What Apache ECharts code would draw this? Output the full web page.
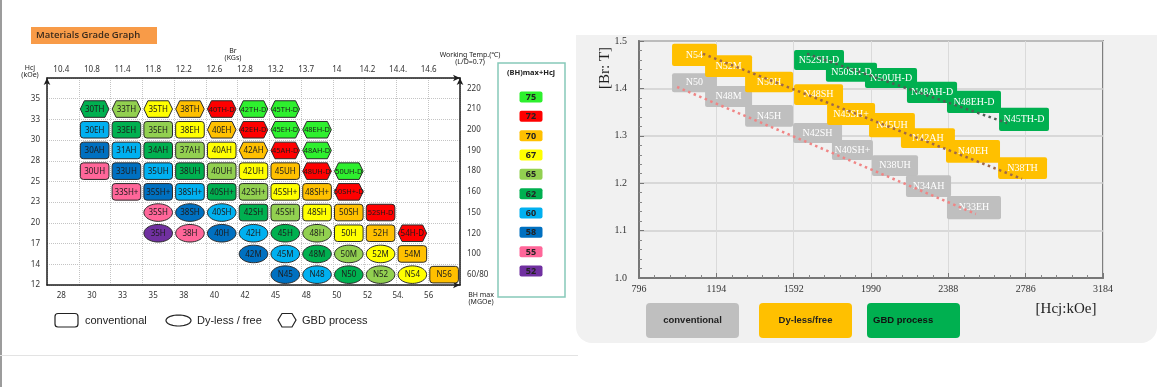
<!DOCTYPE html>
<html><head><meta charset="utf-8">
<script src="https://cdn.jsdelivr.net/npm/echarts@6.0.0/dist/echarts.min.js"></script>
<style>
html,body{margin:0;padding:0;background:#fff;}
#wrap{position:relative;width:1168px;height:387px;overflow:hidden;}
#c{position:absolute;left:0;top:0;width:1168px;height:387px;}
.bg1{position:absolute;left:0;top:0;width:2px;height:387px;background:#9c9c9c;}
.bg2{position:absolute;left:0;top:355px;width:578px;height:1px;background:#e3e3e3;}
.bg3{position:absolute;left:576px;top:35px;width:581px;height:308px;background:#f1f1f1;border-radius:0 0 16px 16px;}
</style>
</head><body><div id="wrap"><div class="bg1"></div><div class="bg2"></div><div class="bg3"></div><div id="c"></div></div>
<script>
// ---------- Left chart data ----------
const bhMaxLabels = ['28','30','33','35','38','40','42','45','48','50','52','54.','56'];
const brLabels = ['10.4','10.8','11.4','11.8','12.2','12.6','12.8','13.2','13.7','14','14.2','14.4.','14.6'];
const hcjLabels = ['12','14','17','20','23','25','28','30','33','35'];
const tempLabels = ['60/80','100','120','150','160','180','190','200','210','220'];
const scoreValues = [75,72,70,67,65,62,60,58,55,52];
const scoreColors = ['#2ef02e','#ff0000','#ffc000','#ffff00','#92d050','#00b050','#00b0f0','#0070c0','#ff6699','#7030a0'];

// rows: 0=N, 1=M, 2=H, 3=SH, 4=SH+, 5=UH, 6=AH, 7=EH, 8=TH ; shapes: r=conventional, e=Dy-less/free, h=GBD
const gradeNames = [
 '30TH','33TH','35TH','38TH','40TH-D','42TH-D','45TH-D',
 '30EH','33EH','35EH','38EH','40EH','42EH-D','45EH-D','48EH-D',
 '30AH','31AH','34AH','37AH','40AH','42AH','45AH-D','48AH-D',
 '30UH','33UH','35UH','38UH','40UH','42UH','45UH','48UH-D','50UH-D',
 '33SH+','35SH+','38SH+','40SH+','42SH+','45SH+','48SH+','50SH+-D',
 '35SH','38SH','40SH','42SH','45SH','48SH','50SH','52SH-D',
 '35H','38H','40H','42H','45H','48H','50H','52H','54H-D',
 '42M','45M','48M','50M','52M','54M',
 'N45','N48','N50','N52','N54','N56'];
const gradeCols = [
 1,2,3,4,5,6,7,
 1,2,3,4,5,6,7,8,
 1,2,3,4,5,6,7,8,
 1,2,3,4,5,6,7,8,9,
 2,3,4,5,6,7,8,9,
 3,4,5,6,7,8,9,10,
 3,4,5,6,7,8,9,10,11,
 6,7,8,9,10,11,
 7,8,9,10,11,12];
const gradeRows = [
 8,8,8,8,8,8,8,
 7,7,7,7,7,7,7,7,
 6,6,6,6,6,6,6,6,
 5,5,5,5,5,5,5,5,5,
 4,4,4,4,4,4,4,4,
 3,3,3,3,3,3,3,3,
 2,2,2,2,2,2,2,2,2,
 1,1,1,1,1,1,
 0,0,0,0,0,0];
const gradeScores = [
 62,65,67,70,72,75,75,
 60,62,65,67,70,72,75,75,
 58,60,62,65,67,70,72,75,
 55,58,60,62,65,67,70,72,75,
 55,58,60,62,65,67,70,72,
 55,58,60,62,65,67,70,72,
 52,55,58,60,62,65,67,70,72,
 58,60,62,65,67,70,
 58,60,62,65,67,70];
const gradeShapes = [
 'h','h','h','h','h','h','h',
 'r','r','r','r','h','h','h','h',
 'r','r','r','r','r','h','h','h',
 'r','r','r','r','r','r','r','h','h',
 'r','r','r','r','r','r','r','h',
 'e','e','e','r','r','r','r','r',
 'e','e','e','e','e','e','r','r','h',
 'e','e','e','e','e','r',
 'e','e','e','e','e','r'];

// ---------- Right chart data ----------
const hcjTicksMin = 796, hcjTicksMax = 3184, hcjStep = 398;
const groupNames = ['conventional','Dy-less/free','GBD process'];
const groupColors = ['#bfbfbf','#ffc000','#00b050'];
const blockNames = ['N50','N48M','N45H','N42SH','N40SH+','N38UH','N34AH','N33EH',
 'N54','N52M','N50H','N48SH','N45SH+','N45UH','N42AH','N40EH','N38TH',
 'N52SH-D','N50SH-D','N50UH-D','N48AH-D','N48EH-D','N45TH-D'];
const blockGroup = [0,0,0,0,0,0,0,0, 1,1,1,1,1,1,1,1,1, 2,2,2,2,2,2];
const blockHcjMin = [966,1136,1342,1589,1789,1995,2170,2381, 966,1136,1342,1594,1764,1980,2144,2376,2644, 1594,1758,1959,2175,2381,2649];
const blockHcjMax = [1197,1378,1589,1841,2000,2232,2402,2659, 1197,1378,1589,1846,2011,2216,2422,2654,2896, 1851,2021,2227,2433,2659,2906];
const blockBrMin = [1.392,1.361,1.319,1.285,1.249,1.215,1.171,1.124, 1.447,1.424,1.392,1.365,1.323,1.297,1.274,1.243,1.209, 1.439,1.414,1.401,1.369,1.348,1.310];
const blockBrMax = [1.432,1.405,1.365,1.327,1.291,1.259,1.217,1.173, 1.494,1.470,1.435,1.409,1.369,1.348,1.316,1.291,1.255, 1.481,1.454,1.443,1.414,1.395,1.359];
const trendColors = ['#f08585','#a06848','#4f5f55'];
const trendHcj = [[992,2530],[1125,2767],[1661,2690]];
const trendBr = [[1.403,1.135],[1.473,1.209],[1.473,1.327]];

// ---------- helpers ----------
function ellipsePts(cx, cy, rx, ry, n){
  const p = [];
  for (let k=0;k<n;k++){ const a = k/n*Math.PI*2; p.push([cx+rx*Math.cos(a), cy+ry*Math.sin(a)]); }
  return p;
}
function T(x, y, text, font, extra){
  return Object.assign({type:'text', x:x, y:y, z:100, style:{text:text, font:font, fill:'#222',
    align:'center', verticalAlign:'middle', textAlign:'center', textVerticalAlign:'middle'}}, extra||{});
}
const shapeCode = {r:0, e:1, h:2};

function renderCell(params, api){
  const i = params.dataIndex;
  const c = api.coord([api.value(0), api.value(1) + 0.5]);
  const band = api.size([1, 1]);
  const w = band[0]*0.9, h = band[1]*0.8;
  const color = scoreColors[scoreValues.indexOf(api.value(2))];
  const shp = api.value(3);
  const x0 = c[0]-w/2, y0 = c[1]-h/2;
  const style = {fill: color, stroke:'#2a2a2a', lineWidth:1};
  let el;
  if (shp === 0) el = {type:'rect', shape:{x:x0, y:y0, width:w, height:h, r:3}, style:style};
  else if (shp === 1) el = {type:'polygon', shape:{points: ellipsePts(c[0], c[1], w/2, h/2+0.5, 40)}, style:style};
  else { const k = 4; el = {type:'polygon', shape:{points:[[x0,c[1]],[x0+k,y0],[x0+w-k,y0],[x0+w,c[1]],[x0+w-k,y0+h],[x0+k,y0+h]]}, style:style}; }
  const name = gradeNames[i];
  const fs = name.length >= 6 ? '7.4px' : '8px';
  return {type:'group', children:[el, {type:'text', style:{text: name, x:c[0], y:c[1]+0.5,
    align:'center', verticalAlign:'middle', textAlign:'center', textVerticalAlign:'middle', fill:'#1c1c1c', font:fs + ' "Noto Sans"'}}]};
}
function renderBlock(params, api){
  const p0 = api.coord([api.value(0), api.value(3)]);
  const p1 = api.coord([api.value(1), api.value(2)]);
  return {type:'rect', shape:{x:p0[0], y:p0[1], width:p1[0]-p0[0], height:p1[1]-p0[1], r:2},
    style:{fill: groupColors[api.value(4)]}};
}
function renderBlockLabel(params, api){
  const p0 = api.coord([api.value(0), api.value(3)]);
  const p1 = api.coord([api.value(1), api.value(2)]);
  return {type:'text', style:{text: blockNames[params.dataIndex], x:(p0[0]+p1[0])/2, y:(p0[1]+p1[1])/2,
    align:'center', verticalAlign:'middle', textAlign:'center', textVerticalAlign:'middle', fill:'#ffffff', font:'10px "Liberation Serif"'}};
}

const cellData = gradeNames.map((n,i)=>({name:n, value:[gradeCols[i], gradeRows[i], gradeScores[i], shapeCode[gradeShapes[i]]]}));
const blockData = blockNames.map((n,i)=>({name:n, value:[blockHcjMin[i], blockHcjMax[i], blockBrMin[i], blockBrMax[i], blockGroup[i]]}));

// ---------- graphics (titles, legends) ----------
const graphics = [];
graphics.push({type:'rect', z:100, shape:{x:31, y:27, width:126, height:17}, style:{fill:'#f89b48'}});
graphics.push({type:'text', z:100, x:36, y:35.5, style:{text:'Materials Grade Graph', font:'600 9.5px "Open Sans"', fill:'#3a2a1c', align:'left', verticalAlign:'middle', textAlign:'left', textVerticalAlign:'middle'}});
graphics.push(T(30, 71, 'Hcj\n(kOe)', '7px "Noto Sans"'));
graphics.push(T(233, 54, 'Br\n(KGs)', '7px "Noto Sans"'));
graphics.push(T(470, 58, 'Working Temp.(\u2103)\n(L/D=0.7)', '7px "Noto Sans"'));
graphics.push(T(481, 298, 'BH max\n(MGOe)', '7px "Noto Sans"'));
// shape legend
const legStroke = {fill:'none', stroke:'#222', lineWidth:1.2};
graphics.push({type:'rect', z:100, shape:{x:55, y:313.5, width:23, height:13.5, r:3}, style:legStroke});
graphics.push({type:'text', z:100, x:85, y:321, style:{text:groupNames[0], font:'11px "Liberation Sans"', fill:'#222', align:'left', verticalAlign:'middle', textAlign:'left', textVerticalAlign:'middle'}});
graphics.push({type:'polygon', z:100, shape:{points: ellipsePts(178.5, 320.5, 12.5, 5.5, 40)}, style:legStroke});
graphics.push({type:'text', z:100, x:197, y:321, style:{text:'Dy-less / free', font:'11px "Liberation Sans"', fill:'#222', align:'left', verticalAlign:'middle', textAlign:'left', textVerticalAlign:'middle'}});
graphics.push({type:'polygon', z:100, shape:{points:[[278,320],[282,313.5],[292,313.5],[296,320],[292,327],[282,327]]}, style:legStroke});
graphics.push({type:'text', z:100, x:302, y:321, style:{text:groupNames[2], font:'11px "Liberation Sans"', fill:'#222', align:'left', verticalAlign:'middle', textAlign:'left', textVerticalAlign:'middle'}});
// colour legend
graphics.push({type:'rect', z:99, shape:{x:498, y:63, width:67, height:234}, style:{fill:'none', stroke:'#86c9b9', lineWidth:1.5}});
graphics.push(T(531, 73, '(BH)max+Hcj', 'bold 7.5px "Noto Sans"'));
scoreValues.forEach((v, i)=>{
  const cy = 97 + i*19.33;
  graphics.push({type:'rect', z:100, shape:{x:519.5, y:cy-5.5, width:23, height:11, r:2}, style:{fill:scoreColors[i]}});
  graphics.push(T(531, cy+0.5, String(v), 'bold 9px "Noto Sans"'));
});
// right chart names & legend
graphics.push(T(605, 68, '[Br: T]', '15px "Liberation Serif"', {rotation: Math.PI/2}));
graphics.push(T(1066, 309, '[Hcj:kOe]', '15px "Liberation Serif"'));
const btnX = [646, 759, 867];
groupNames.forEach((g, i)=>{
  graphics.push({type:'rect', z:100, shape:{x:btnX[i], y:303, width:93, height:35, r:4}, style:{fill:groupColors[i]}});
  if (i < 2) graphics.push(T(btnX[i]+46.5, 320.5, g, 'bold 9.5px "Liberation Sans"'));
  else graphics.push({type:'text', z:100, x:btnX[i]+6, y:320.5, style:{text:g, font:'bold 9.5px "Liberation Sans"', fill:'#111', align:'left', verticalAlign:'middle', textAlign:'left', textVerticalAlign:'middle'}});
});

const axisDark = {show:true, onZero:false, lineStyle:{color:'#1e1e1e', width:1.5}};
const lblFont = {fontSize:8, color:'#333', fontFamily:'Noto Sans'};
const serifLbl = {fontSize:10, color:'#333', fontFamily:'Liberation Serif'};

const option = {
  animation:false,
  backgroundColor:'transparent',
  graphic: graphics,
  grid:[
    {left:47, top:78, width:413, height:207, containLabel:false, outerBoundsMode:'none'},
    {left:639, top:41, width:464, height:237, containLabel:false, outerBoundsMode:'none', show:true, borderColor:'#5a5a5a', borderWidth:1.5, backgroundColor:'transparent'},
    {left:46, top:78, width:398, height:207, containLabel:false, outerBoundsMode:'none'}
  ],
  xAxis:[
    {gridIndex:0, type:'category', data:bhMaxLabels, position:'bottom', boundaryGap:true,
      axisLine:Object.assign({symbol:['none','arrow'], symbolSize:[5,7]}, axisDark), axisTick:{show:false}, axisLabel:{show:false},
      splitLine:{show:true, interval:0, lineStyle:{color:'#c4c4c4', type:'dotted', width:1}}},
    {gridIndex:0, type:'category', data:brLabels, position:'top', boundaryGap:true,
      axisLine:Object.assign({symbol:['none','arrow'], symbolSize:[5,7]}, axisDark), axisTick:{show:false}, axisLabel:{show:false}, splitLine:{show:false}},
    {gridIndex:2, type:'category', data:bhMaxLabels, position:'bottom', boundaryGap:true,
      axisLine:{show:false}, axisTick:{show:false}, axisLabel:Object.assign({interval:0, margin:7}, lblFont), splitLine:{show:false}},
    {gridIndex:2, type:'category', data:brLabels, position:'top', boundaryGap:true,
      axisLine:{show:false}, axisTick:{show:false}, axisLabel:Object.assign({interval:0, margin:4}, lblFont), splitLine:{show:false}},
    {gridIndex:1, type:'value', min:hcjTicksMin, max:hcjTicksMax, interval:hcjStep,
      axisLine:{show:true, onZero:false, lineStyle:{color:'#777', width:2}},
      axisTick:{show:true, inside:true, length:5, lineStyle:{color:'#777'}},
      minorTick:{show:true, splitNumber:5, length:3, lineStyle:{color:'#888'}},
      axisLabel:Object.assign({margin:6, formatter:(v)=> String(v)}, serifLbl),
      splitLine:{show:true, lineStyle:{color:'#dadada', width:1}}}
  ],
  yAxis:[
    {gridIndex:0, type:'value', min:0, max:10, interval:1,
      axisLine:Object.assign({symbol:['none','arrow'], symbolSize:[5,7]}, axisDark), axisTick:{show:false},
      axisLabel:Object.assign({margin:7, formatter:(v)=> hcjLabels[v] || ''}, lblFont),
      splitLine:{show:true, lineStyle:{color:'#c4c4c4', type:'dotted', width:1}}},
    {gridIndex:0, type:'category', data:tempLabels, position:'right', boundaryGap:true,
      axisLine:Object.assign({symbol:['none','arrow'], symbolSize:[5,7]}, axisDark), axisTick:{show:false},
      axisLabel:Object.assign({interval:0, margin:7, padding:[5,0,0,0]}, lblFont), splitLine:{show:false}},
    {gridIndex:2, type:'value', min:0, max:10, show:false},
    {gridIndex:1, type:'value', min:1.0, max:1.5, interval:0.1,
      axisLine:{show:true, onZero:false, lineStyle:{color:'#777', width:2}},
      axisTick:{show:true, inside:true, length:5, lineStyle:{color:'#777'}},
      minorTick:{show:true, splitNumber:5, length:3, lineStyle:{color:'#888'}},
      axisLabel:Object.assign({margin:12, formatter:(v)=> v.toFixed(1)}, serifLbl),
      splitLine:{show:true, lineStyle:{color:'#cfcfcf', width:1.5}}}
  ],
  series:[
    {type:'custom', name:'grades', xAxisIndex:0, yAxisIndex:0, data:cellData, renderItem:renderCell, encode:{x:0, y:1}, z:3},
    {type:'custom', name:'blocks', xAxisIndex:4, yAxisIndex:3, data:blockData, renderItem:renderBlock, encode:{x:[0,1], y:[2,3]}, z:2},
    {type:'custom', name:'blockLabels', xAxisIndex:4, yAxisIndex:3, data:blockData, renderItem:renderBlockLabel, encode:{x:[0,1], y:[2,3]}, z:4}
  ].concat(trendHcj.map((h, i)=>({
    type:'line', xAxisIndex:4, yAxisIndex:3, symbol:'none', z:5, silent:true,
    data:[[h[0], trendBr[i][0]], [h[1], trendBr[i][1]]],
    lineStyle:{color:trendColors[i], width:2.5, type:[2.5,3.5]}
  })))
};
const chart = echarts.init(document.getElementById('c'), null, {renderer:'canvas', width:1168, height:387});
chart.setOption(option);
</script>
</body></html>
